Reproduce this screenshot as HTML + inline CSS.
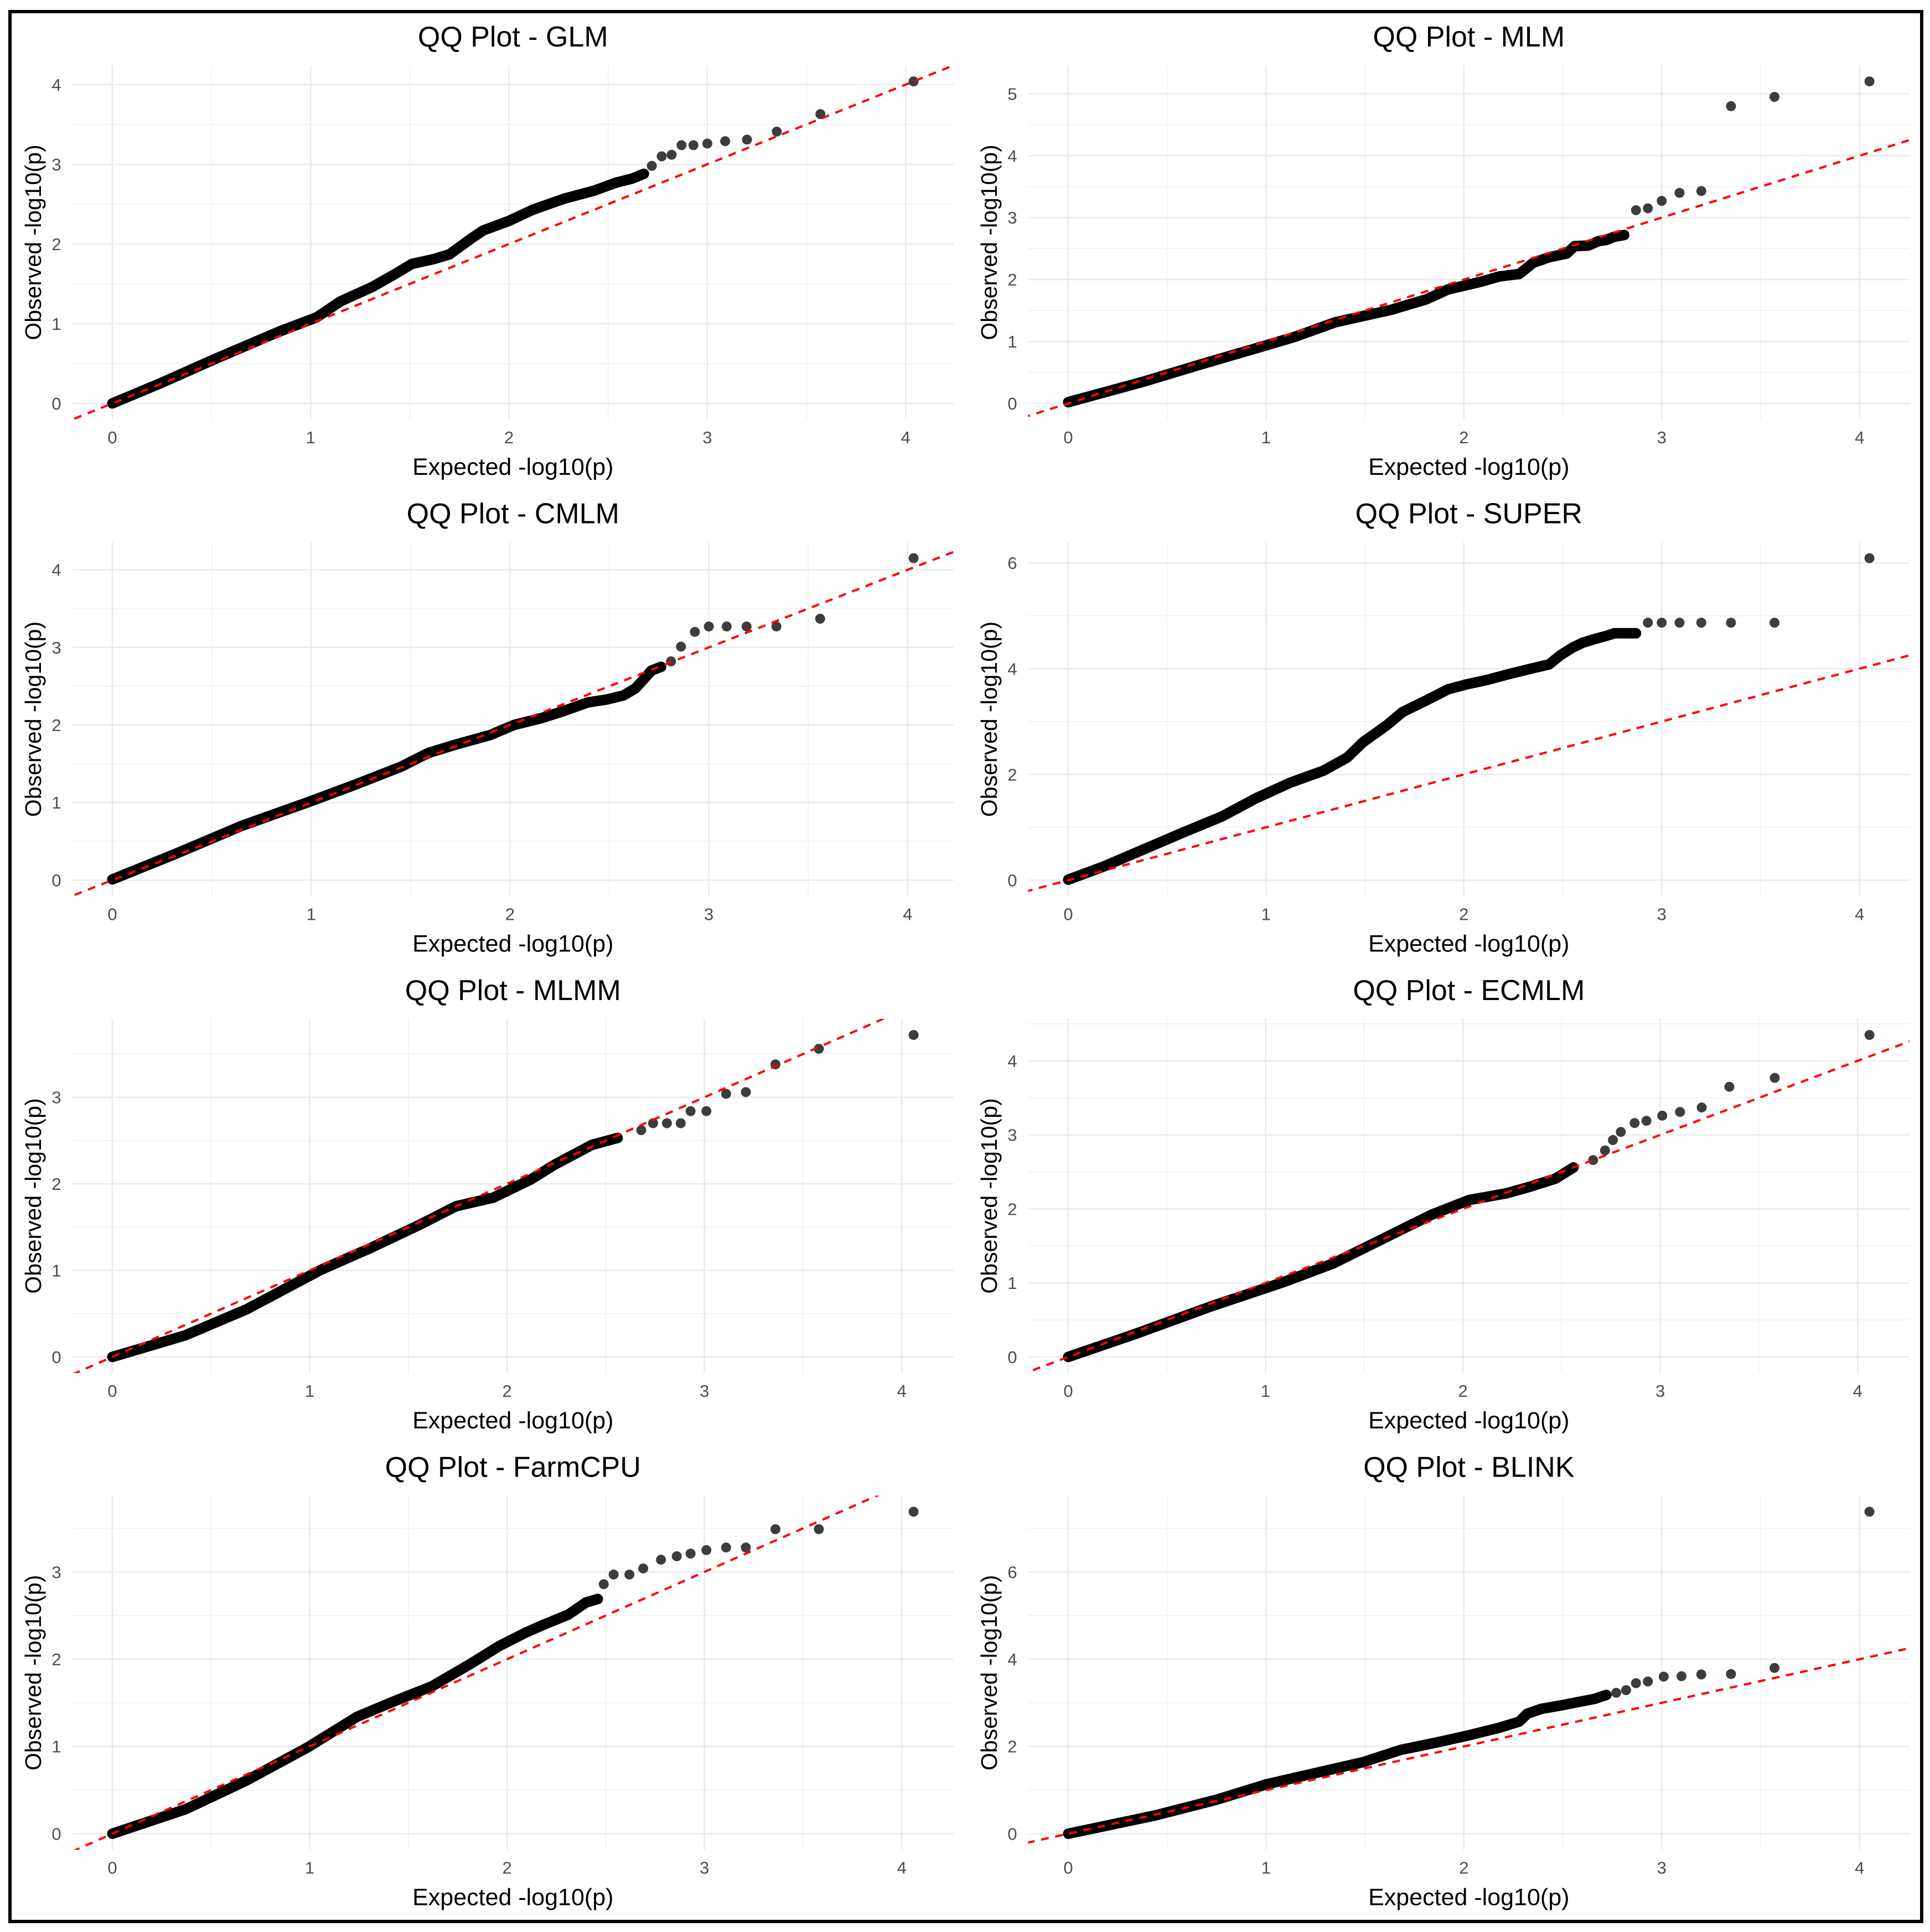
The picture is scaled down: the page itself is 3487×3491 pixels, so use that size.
<!DOCTYPE html>
<html><head><meta charset="utf-8"><style>
html,body{margin:0;padding:0;background:#fff;}
svg{display:block;}
text{font-family:"Liberation Sans",sans-serif;}
</style></head>
<body>
<svg id="fig" width="3487" height="3491" viewBox="0 0 3487 3491" xmlns="http://www.w3.org/2000/svg">
<rect x="0" y="0" width="3487" height="3491" fill="#fff"/>
<rect x="18" y="21" width="3454" height="3451" fill="none" stroke="#000" stroke-width="6"/>
</svg>
<script>
// Panel titles
const panelNames = ["GLM","MLM","CMLM","SUPER","MLMM","ECMLM","FarmCPU","BLINK"];
// Y tick labels per panel
const yTicks = [[0,1,2,3,4],[0,1,2,3,4,5],[0,1,2,3,4],[0,2,4,6],[0,1,2,3],[0,1,2,3,4],[0,1,2,3],[0,2,4,6]];
const xTicks = [0,1,2,3,4];
const glmExp = [0,0.24,0.52,0.84,1.03,1.15,1.31,1.43,1.51,1.62,1.7,1.81,1.87,2.0,2.12,2.28,2.43,2.54,2.62,2.68,2.72,2.77,2.82,2.87,2.93,3.0,3.09,3.2,3.35,3.57,4.04];
const glmObs = [0,0.25,0.56,0.9,1.08,1.28,1.46,1.63,1.75,1.81,1.87,2.07,2.17,2.29,2.43,2.57,2.67,2.77,2.82,2.88,2.98,3.10,3.12,3.24,3.24,3.26,3.29,3.31,3.41,3.63,4.04];
const mlmExp = [0,0.38,0.66,0.95,1.15,1.35,1.49,1.63,1.81,1.92,2.08,2.18,2.28,2.35,2.43,2.52,2.56,2.63,2.68,2.72,2.76,2.81,2.87,2.93,3.0,3.09,3.2,3.35,3.57,4.05];
const mlmObs = [0.02,0.35,0.62,0.89,1.08,1.31,1.41,1.51,1.68,1.84,1.96,2.05,2.09,2.27,2.36,2.42,2.54,2.55,2.62,2.64,2.69,2.72,3.12,3.15,3.27,3.4,3.43,4.8,4.95,5.2];
const cmlmExp = [0,0.31,0.65,0.99,1.22,1.45,1.59,1.73,1.9,2.02,2.16,2.27,2.39,2.49,2.57,2.63,2.68,2.71,2.76,2.81,2.86,2.93,3.0,3.09,3.19,3.34,3.56,4.03];
const cmlmObs = [0.01,0.33,0.7,1.01,1.23,1.46,1.64,1.75,1.87,2.0,2.09,2.18,2.29,2.33,2.38,2.47,2.61,2.7,2.75,2.82,3.01,3.2,3.27,3.27,3.27,3.27,3.37,4.15];
const superExp = [0,0.18,0.38,0.58,0.78,0.95,1.12,1.29,1.41,1.49,1.61,1.69,1.81,1.92,2.01,2.12,2.23,2.35,2.43,2.49,2.55,2.6,2.66,2.72,2.76,2.81,2.87,2.93,3.0,3.09,3.2,3.35,3.57,4.05];
const superObs = [0.01,0.26,0.58,0.9,1.21,1.55,1.84,2.07,2.32,2.61,2.93,3.18,3.4,3.61,3.7,3.79,3.9,4.01,4.08,4.26,4.40,4.49,4.56,4.62,4.67,4.67,4.67,4.87,4.87,4.87,4.87,4.87,4.87,6.09];
const mlmmExp = [0,0.37,0.68,1.06,1.31,1.56,1.74,1.93,2.12,2.24,2.43,2.56,2.68,2.74,2.81,2.88,2.93,3.01,3.11,3.21,3.36,3.58,4.06];
const mlmmObs = [0,0.25,0.55,1.01,1.26,1.53,1.74,1.84,2.05,2.22,2.45,2.53,2.62,2.70,2.70,2.70,2.84,2.84,3.04,3.06,3.38,3.56,3.72];
const ecmlmExp = [0,0.34,0.72,1.09,1.34,1.59,1.84,2.03,2.22,2.34,2.47,2.56,2.66,2.72,2.76,2.8,2.87,2.93,3.01,3.1,3.21,3.35,3.58,4.06];
const ecmlmObs = [0,0.31,0.68,1.01,1.26,1.59,1.92,2.12,2.21,2.30,2.41,2.56,2.66,2.79,2.93,3.04,3.16,3.19,3.26,3.31,3.37,3.65,3.77,4.35];
const farmExp = [0,0.37,0.68,0.99,1.24,1.43,1.62,1.81,1.96,2.09,2.18,2.31,2.4,2.46,2.49,2.54,2.62,2.69,2.78,2.86,2.93,3.01,3.11,3.21,3.36,3.58,4.06];
const farmObs = [0,0.28,0.61,0.99,1.34,1.52,1.69,1.94,2.15,2.30,2.39,2.51,2.65,2.69,2.86,2.97,2.97,3.04,3.14,3.18,3.21,3.25,3.28,3.28,3.49,3.49,3.69];
const blinkExp = [0,0.44,0.75,1.0,1.25,1.49,1.68,1.87,2.02,2.18,2.28,2.32,2.39,2.49,2.58,2.66,2.72,2.77,2.82,2.87,2.93,3.01,3.1,3.2,3.35,3.57,4.05];
const blinkObs = [0,0.42,0.78,1.13,1.39,1.64,1.92,2.10,2.25,2.43,2.57,2.75,2.86,2.94,3.02,3.09,3.18,3.23,3.29,3.45,3.49,3.60,3.61,3.65,3.66,3.80,7.38];
// number of leading points drawn as a dense band
const denseCount = [20,22,19,27,12,12,14,17];

const expAll = [glmExp,mlmExp,cmlmExp,superExp,mlmmExp,ecmlmExp,farmExp,blinkExp];
const obsAll = [glmObs,mlmObs,cmlmObs,superObs,mlmmObs,ecmlmObs,farmObs,blinkObs];

const NS = "http://www.w3.org/2000/svg";
const svg = document.getElementById('fig');
function mk(tag, attrs, parent){
  const e = document.createElementNS(NS, tag);
  for (const k in attrs) e.setAttribute(k, attrs[k]);
  (parent||svg).appendChild(e);
  return e;
}
const colX = [0, 1727];
const rowY = [0, 861.5, 1723, 2584.5];

for (let p = 0; p < 8; p++) {
  const ox = colX[p % 2], oy = rowY[Math.floor(p / 2)];
  const ex = expAll[p], ob = obsAll[p];
  const xmax = Math.max(...ex), ymax = Math.max(...ob);
  const L = 130.6 + ox, R = 1723 + ox, T = 118 + oy, B = 758 + oy;
  const x0 = -0.05 * xmax, x1 = 1.05 * xmax;
  const y0 = -0.05 * ymax, y1 = 1.05 * ymax;
  const sx = v => L + (v - x0) / (x1 - x0) * (R - L);
  const sy = v => B - (v - y0) / (y1 - y0) * (B - T);

  const g = mk('g', {});
  
  

  const cid = 'clip' + p;
  const cp = mk('clipPath', {id: cid}, g);
  mk('rect', {x: L, y: T, width: R - L, height: B - T}, cp);

  const yStep = yTicks[p][1] - yTicks[p][0];
  for (let v = 0.5; v < x1; v += 1) {
    const l = mk('line', {x1: sx(v), x2: sx(v), y1: T, y2: B, stroke: '#f1f1f1', 'stroke-width': 1.6}, g);
    
    
  }
  for (let v = yStep / 2; v < y1; v += yStep) {
    const l = mk('line', {x1: L, x2: R, y1: sy(v), y2: sy(v), stroke: '#f1f1f1', 'stroke-width': 1.6}, g);
    
    
  }
  xTicks.forEach(t => {
    const l = mk('line', {x1: sx(t), x2: sx(t), y1: T, y2: B, stroke: '#ebebeb', 'stroke-width': 2.6}, g);
    
    
    const tx = mk('text', {x: sx(t), y: B + 43, 'font-size': 31, fill: '#4d4d4d', 'text-anchor': 'middle'}, g);
    tx.textContent = t;
    
    
  });
  yTicks[p].forEach(t => {
    const l = mk('line', {x1: L, x2: R, y1: sy(t), y2: sy(t), stroke: '#ebebeb', 'stroke-width': 2.6}, g);
    
    
    const tx = mk('text', {x: L - 20, y: sy(t) + 11, 'font-size': 31, fill: '#4d4d4d', 'text-anchor': 'end'}, g);
    tx.textContent = t;
    
    
  });

  const n = denseCount[p];
  let d = '';
  for (let i = 0; i < n; i++) d += (i ? 'L' : 'M') + sx(ex[i]).toFixed(1) + ' ' + sy(ob[i]).toFixed(1);
  const band = mk('path', {d: d, fill: 'none', stroke: '#000', 'stroke-width': 19, 'stroke-linecap': 'round', 'stroke-linejoin': 'round'}, g);
  
  
  for (let i = 0; i < ex.length; i++) {
    const c = mk('circle', {cx: sx(ex[i]), cy: sy(ob[i]), r: 9, fill: i < n ? '#000' : '#333', 'fill-opacity': i < n ? 1 : 0.95}, g);
    
    
  }
  const lim = Math.max(x1, y1);
  const rl = mk('line', {x1: sx(x0 - 1), y1: sy(x0 - 1), x2: sx(lim + 1), y2: sy(lim + 1), stroke: '#ff0000', 'stroke-width': 4, 'stroke-dasharray': '14 12', 'clip-path': 'url(#' + cid + ')'}, g);
  
  

  const tt = mk('text', {x: (L + R) / 2, y: 84 + oy, 'font-size': 52, fill: '#000', 'text-anchor': 'middle'}, g);
  tt.textContent = 'QQ Plot - ' + panelNames[p];
  
  
  const xt = mk('text', {x: (L + R) / 2, y: 858 + oy, 'font-size': 43, fill: '#000', 'text-anchor': 'middle'}, g);
  xt.textContent = 'Expected -log10(p)';
  
  
  const yx = 74 + ox, yy = (T + B) / 2;
  const yt = mk('text', {x: yx, y: yy, 'font-size': 41, fill: '#000', 'text-anchor': 'middle', transform: 'rotate(-90 ' + yx + ' ' + yy + ')'}, g);
  yt.textContent = 'Observed -log10(p)';
  
  
}
</script>
</body></html>
